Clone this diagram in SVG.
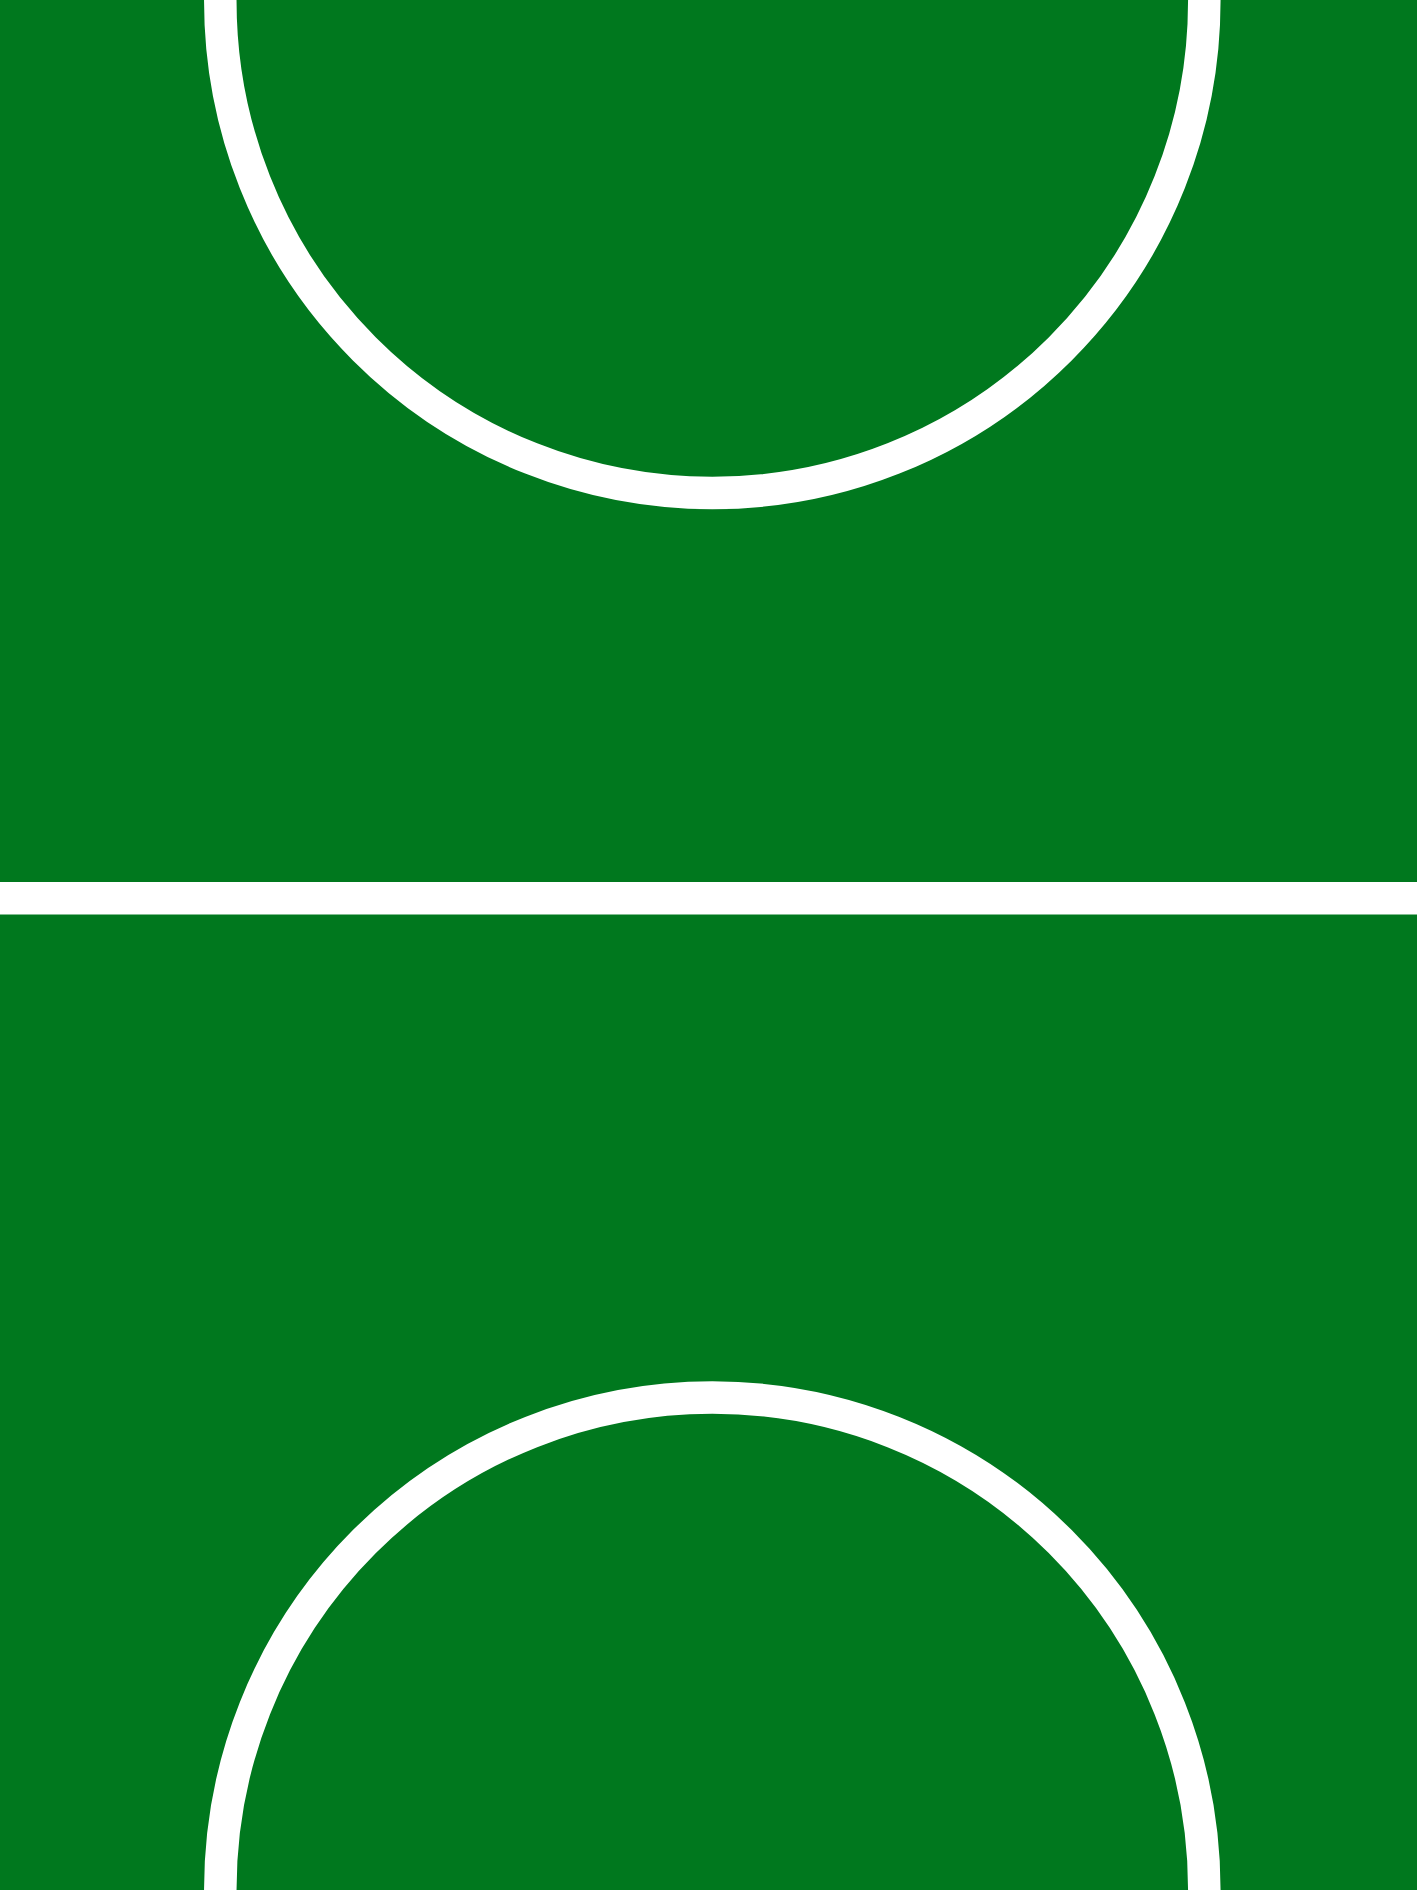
<svg xmlns="http://www.w3.org/2000/svg" width="1417" height="1890" viewBox="0 0 1417 1890">
<style>
.line{fill:none;stroke:#ffffff;stroke-width:32.5}
</style>
<rect id="pitch" x="0" y="0" width="1417" height="1890" fill="#00781E"/>
<g id="markings">
<circle id="top-circle" class="line" cx="712.3" cy="1" r="492"/>
<line id="halfway-line" class="line" x1="0" y1="898.3" x2="1417" y2="898.3"/>
<circle id="bottom-circle" class="line" cx="712.3" cy="1889.5" r="492"/>
</g>
</svg>
